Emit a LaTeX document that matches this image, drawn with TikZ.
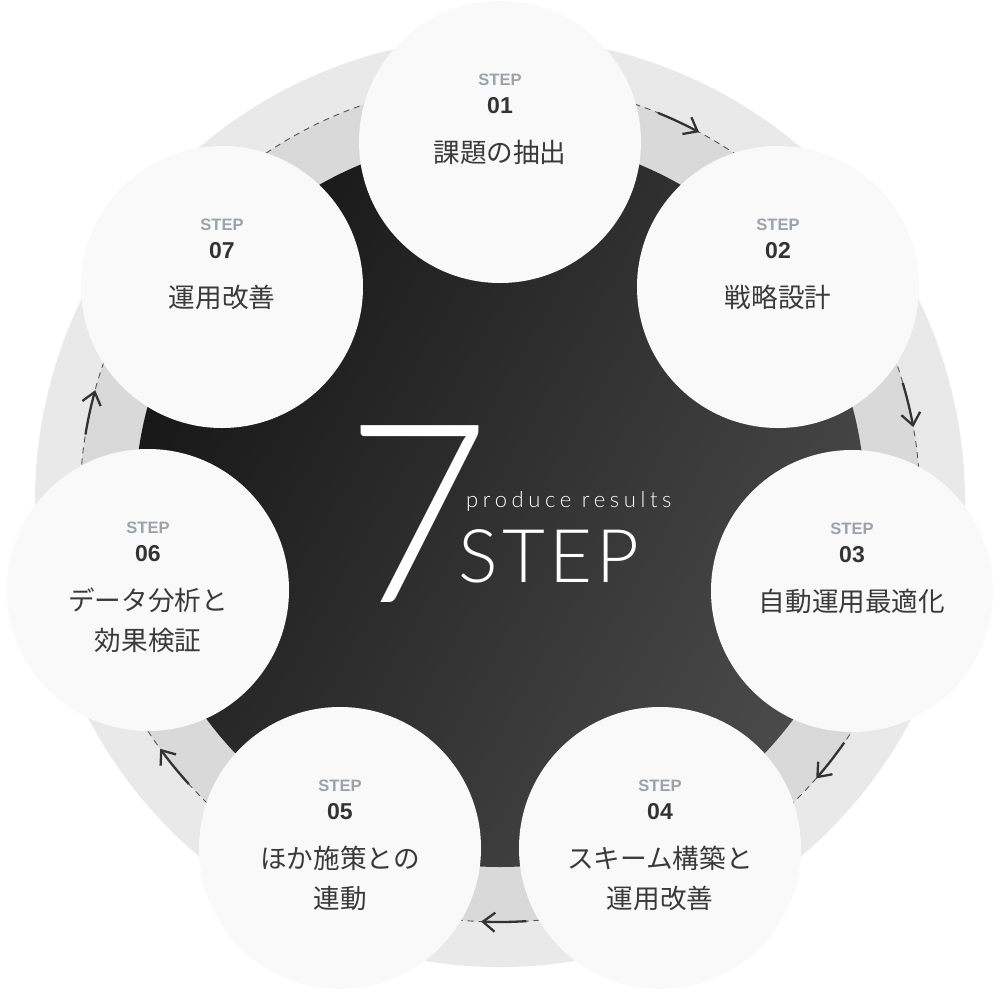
\documentclass[tikz,border=0pt]{standalone}
\usepackage{fontspec}
\usetikzlibrary{arrows.meta}
\setmainfont{Liberation Sans}
\newfontfamily\jpfont{Noto Sans CJK JP}
\IfFontExistsTF{Lato Light}{%
  \newfontfamily\thinfont{Lato Light}%
  \newfontfamily\thinspaced{Lato Light}[LetterSpace=21]%
  \newfontfamily\thinstep{Lato Light}[LetterSpace=6]%
}{%
  \IfFontExistsTF{Fira Sans Light}{%
    \newfontfamily\thinfont{Fira Sans Light}%
    \newfontfamily\thinspaced{Fira Sans Light}[LetterSpace=21]%
    \newfontfamily\thinstep{Fira Sans Light}[LetterSpace=6]%
  }{%
    \newfontfamily\thinfont{Liberation Sans}%
    \newfontfamily\thinspaced{Liberation Sans}[LetterSpace=21]%
    \newfontfamily\thinstep{Liberation Sans}[LetterSpace=6]%
  }%
}
\definecolor{outerring}{HTML}{E9E9E9}
\definecolor{midring}{HTML}{D9D9D9}
\definecolor{dashcol}{HTML}{555555}
\definecolor{arrowcol}{HTML}{333333}
\definecolor{stepgray}{HTML}{9AA2AB}
\definecolor{numcol}{HTML}{333333}
\definecolor{labelcol}{HTML}{3A3A3A}
\definecolor{circfill}{HTML}{F9F9F9}
\definecolor{darkA}{HTML}{171717}
\definecolor{darkB}{HTML}{4A4A4A}
\begin{document}
\begin{tikzpicture}[x=1pt,y=1pt,
  stepcirc/.style={circle, minimum size=282pt, inner sep=0pt, fill=circfill},
  stepword/.style={anchor=base, inner sep=0pt, text=stepgray, font=\bfseries\fontsize{16.5}{16.5}\selectfont},
  stepnum/.style={anchor=base, inner sep=0pt, text=numcol, font=\bfseries\fontsize{23}{23}\selectfont},
  steplabel/.style={anchor=base, inner sep=0pt, text=labelcol, font=\jpfont\fontsize{26.6}{26.6}\selectfont},
  flowarrow/.style={draw=arrowcol, line width=2.3pt, -{Straight Barb[length=12pt,width=19pt]}},
  centertext/.style={inner sep=0pt, text=white}
]
\useasboundingbox (0,0) rectangle (1000,-1005);
\fill[white] (0,0) rectangle (1000,-1005);
\coordinate (O) at (500,-502);
\fill[outerring] (O) circle[radius=465];
\fill[midring] (O) circle[radius=420];
\draw[dashcol, line width=0.9pt, dash pattern=on 6pt off 5pt] (O) circle[radius=420];
\shade[top color=darkA, bottom color=darkB, shading angle=60] (O) circle[radius=365];

% arrows along the dashed ring
\foreach \k in {0,...,5}{
  \pgfmathsetmacro\ps{90-22.1-51.4286*\k}
  \pgfmathsetmacro\pe{\ps-6.2}
  \path (O) ++(\ps:420) coordinate (a\k);
  \draw[flowarrow] (a\k) arc[start angle=\ps, end angle=\pe, radius=420];
}

% step circles
\node[stepcirc] (c1) at (500,-142) {};
\node[stepcirc] (c2) at (778,-287) {};
\node[stepcirc] (c3) at (852,-591) {};
\node[stepcirc] (c4) at (660,-848) {};
\node[stepcirc] (c5) at (340,-848) {};
\node[stepcirc] (c6) at (148,-590) {};
\node[stepcirc] (c7) at (222,-287) {};

\node[stepword] (c1s) at ([yshift=57]c1.center) {STEP};
\node[stepnum]  (c1n) at ([yshift=29]c1.center) {01};
\node[steplabel] (c1l) at ([yshift=-20]c1.center) {課題の抽出};

\node[stepword] (c2s) at ([yshift=57]c2.center) {STEP};
\node[stepnum]  (c2n) at ([yshift=29]c2.center) {02};
\node[steplabel] (c2l) at ([yshift=-20]c2.center) {戦略設計};

\node[stepword] (c3s) at ([yshift=57]c3.center) {STEP};
\node[stepnum]  (c3n) at ([yshift=29]c3.center) {03};
\node[steplabel] (c3l) at ([yshift=-20]c3.center) {自動運用最適化};

\node[stepword] (c4s) at ([yshift=57]c4.center) {STEP};
\node[stepnum]  (c4n) at ([yshift=29]c4.center) {04};
\node[steplabel] (c4l) at ([yshift=-20]c4.center) {スキーム構築と};
\node[steplabel] (c4m) at ([yshift=-60]c4.center) {運用改善};

\node[stepword] (c5s) at ([yshift=57]c5.center) {STEP};
\node[stepnum]  (c5n) at ([yshift=29]c5.center) {05};
\node[steplabel] (c5l) at ([yshift=-20]c5.center) {ほか施策との};
\node[steplabel] (c5m) at ([yshift=-60]c5.center) {連動};

\node[stepword] (c6s) at ([yshift=57]c6.center) {STEP};
\node[stepnum]  (c6n) at ([yshift=29]c6.center) {06};
\node[steplabel] (c6l) at ([yshift=-20]c6.center) {データ分析と};
\node[steplabel] (c6m) at ([yshift=-60]c6.center) {効果検証};

\node[stepword] (c7s) at ([yshift=57]c7.center) {STEP};
\node[stepnum]  (c7n) at ([yshift=29]c7.center) {07};
\node[steplabel] (c7l) at ([yshift=-20]c7.center) {運用改善};

% centre title
\node[centertext, anchor=base, font=\thinfont\fontsize{250}{250}\selectfont] (seven) at (418,-602) {7};
\node[centertext, anchor=base west, font=\thinspaced\fontsize{22}{22}\selectfont] (produce) at (466,-507) {produce results};
\node[centertext, anchor=base west, font=\thinstep\fontsize{74}{74}\selectfont] (bigstep) at (458,-582) {STEP};
\end{tikzpicture}
\end{document}
